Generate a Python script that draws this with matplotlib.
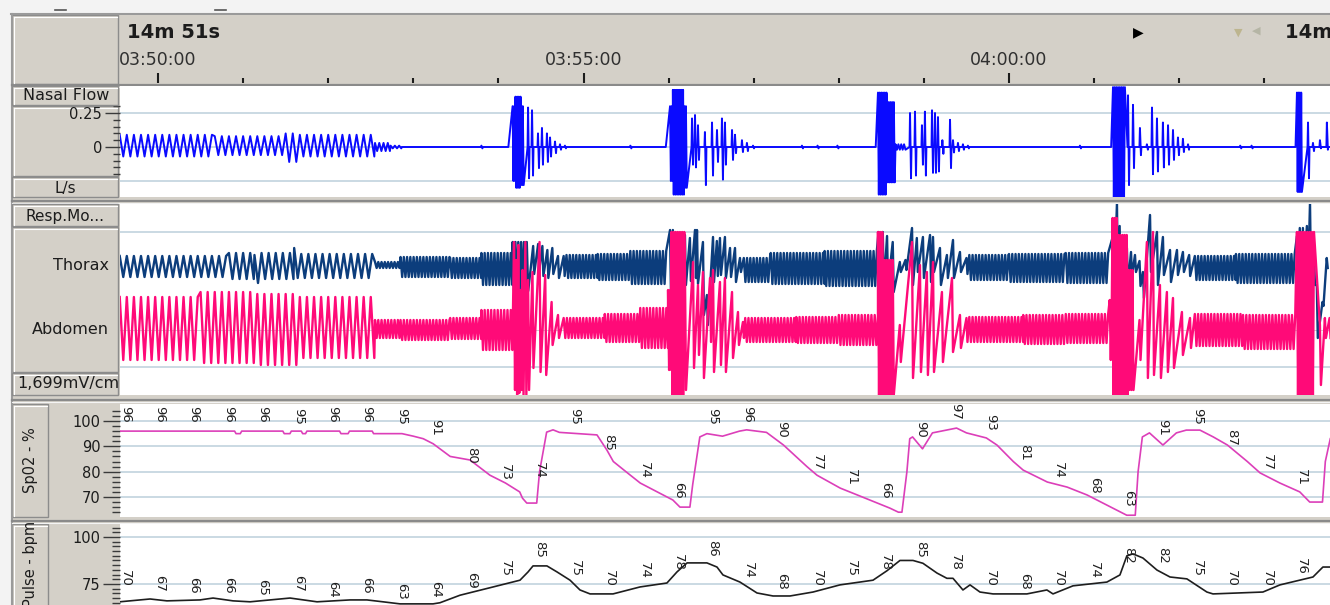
import numpy as np
import matplotlib.pyplot as plt
from matplotlib.patches import Rectangle
from matplotlib.transforms import Bbox, TransformedBbox
from matplotlib.ticker import FixedLocator, MultipleLocator

plt.rcParams['font.family'] = ['DejaVu Sans']

# time is in seconds after 03:50:00

# --- nasal flow (L/s): breathing bands + single strokes
flow_band_start = [-27, 40, 90, 100, 153, 164, 172, 250, 252, 256, 288, 361, 363, 371, 421,
                   507.6, 514, 520, 572, 673.3, 727, 803, 825]
flow_band_end = [40, 90, 100, 153, 164, 172, 250, 252, 256, 258, 361, 363, 371, 373, 507.6,
                 514, 519.6, 528, 673, 681.7, 803, 807, 828]
flow_band_hi = [0.09, 0.08, 0.10, 0.09, 0.03, 0.01, 0, 0.30, 0.37, 0.30, 0, 0.30, 0.42, 0.30, 0,
                0.40, 0.33, 0.02, 0, 0.44, 0, 0.40, 0]
flow_band_lo = [-0.07, -0.06, -0.11, -0.07, -0.03, -0.01, 0, -0.25, -0.30, -0.28, 0, -0.25, -0.35,
                -0.30, 0, -0.35, -0.26, -0.02, 0, -0.37, 0, -0.33, 0]
flow_band_period = [5, 5, 5, 5, 3, 3, 10, 1.2, 1.2, 1.2, 10, 1.2, 1.2, 1.2, 10,
                    1.2, 1.2, 2, 10, 1.2, 10, 1.0, 2]
flow_stroke_t = [228, 260.9, 263.7, 267.9, 270.7, 274.2, 276.4, 279.9, 283.4, 286.9, 333,
                 376.5, 378.6, 380.7, 385.6, 390.6, 394.1, 397.6, 399.7, 404.7, 406.8, 411.7, 415.2, 419.5,
                 454, 465, 479,
                 530.2, 533.7, 538.6, 540.7, 545.7, 547.8, 549.9, 553, 558.4, 560.5, 564, 567.5, 571, 650,
                 683.9, 687.4, 692.3, 697.2, 700.8, 704.3, 708.5, 712.1, 715.6, 719.1, 722.6, 726.2,
                 763, 771, 810.8, 814.3, 819.2, 824.1]
flow_stroke_hi = [0.01, 0.29, 0.27, 0.10, 0.14, 0.10, 0.07, 0.04, 0.02, 0.01, 0.01,
                  0.21, 0.235, 0.16, 0.11, 0.18, 0.125, 0.21, 0.18, 0.125, 0.09, 0.05, 0.03, 0.01,
                  0.01, 0.01, 0.01,
                  0.25, 0.26, 0.16, 0.26, 0.27, 0.25, 0.22, 0.05, 0.20, 0.05, 0.03, 0.02, 0.01, 0.01,
                  0.38, 0.31, 0.14, 0.02, 0.29, 0.21, 0.18, 0.16, 0.125, 0.07, 0.06, 0.02,
                  0.01, 0.01, 0.18, 0.03, 0.05, 0.18]
flow_stroke_lo = [-0.01, -0.23, -0.21, -0.155, -0.13, -0.11, -0.07, -0.045, -0.02, -0.01, -0.01,
                  -0.13, -0.15, -0.095, -0.28, -0.21, -0.11, -0.24, -0.13, -0.095, -0.045, -0.037, -0.03, -0.01,
                  -0.01, -0.01, -0.01,
                  -0.23, -0.21, -0.13, -0.21, -0.19, -0.19, -0.18, -0.05, -0.155, -0.04, -0.03, -0.02, -0.01, -0.01,
                  -0.28, -0.155, -0.06, -0.02, -0.20, -0.18, -0.15, -0.13, -0.095, -0.06, -0.037, -0.02,
                  -0.01, -0.01, -0.23, -0.03, -0.01, -0.02]

# --- thorax effort (display units around its own baseline)
thx_band_start = [-27, 50, 68, 73, 96, 101, 153, 171, 206, 228, 250, 288, 310, 333, 413, 432, 470,
                  572, 600, 640, 731, 760]
thx_band_end = [50, 68, 73, 96, 101, 153, 171, 206, 228, 250, 262, 310, 333, 359, 432, 470, 507,
                600, 640, 671, 760, 802]
thx_band_hi = [10, 13, 11, 13, 18, 12, 4, 9, 8, 13, 24, 11, 12, 15, 8, 13, 15, 11, 12, 13, 10, 12]
thx_band_lo = [-11, -13, -17, -13, -12, -12, -2, -11, -12, -19, -25, -12, -14, -18, -16, -18, -20,
               -14, -16, -17, -14, -17]
thx_band_period = [5, 5, 5, 5, 5, 5, 2.3, 2.3, 2.3, 2.3, 2.0, 2.3, 2.3, 2.3, 2.3, 2.3, 2.3,
                   2.3, 2.3, 2.3, 2.3, 2.3]
thx_stroke_t = [264.5, 268, 271, 274.5, 278, 282, 286,
                361, 363, 366, 369, 371.5, 375, 378.6, 380, 384.2, 387, 391.3, 394, 396.2, 399.7, 403.3, 406.8, 410.3,
                508, 511, 514, 518, 523, 527, 531.6, 535, 539.3, 544.3, 546.4, 551.3, 556.2, 560.5, 565.4, 570,
                673.3, 676.1, 678, 681, 683.1, 686, 688.8, 692, 694.4, 699.4, 704.3, 708.5, 713.5, 718.4, 722.6, 727,
                803, 805, 807.2, 810, 812.2, 815, 817, 821, 824]
thx_stroke_hi = [20, 22, 20, 16, 18, 10, 10,
                 36, 36, 30, 30, 31, 28, 36, 36, 24, -29, 29, 25, 28, 29, 18, 18, 8,
                 34, 34, 30, 24, 4, 6, 38, 28, 29, 31, 29, 18, 11, 26, 14, 8,
                 30, 63, 40, 30, 18, 14, 11, 5, -6, 51, 34, 29, 16, 16, 14, 11,
                 30, 38, 38, 40, 63, 10, -19, -36, 8]
thx_stroke_lo = [-8, -5, -10, -12, -8, -12, -10,
                 -32, -20, -25, -30, -19, -15, -12, -18, -49, -59, -16, -10, -9, -12, -11, -16, -6,
                 -19, -22, -20, -26, -6, -4, -19, -6, -12, -16, -6, -19, -12, -12, -6, -8,
                 -32, -32, -30, -25, -19, -10, -6, -20, -32, -6, -19, -9, -16, -9, -6, -10,
                 -20, -25, -12, -20, -12, -19, -72, -40, -2]

# --- abdomen effort
abd_band_start = [-27, 30, 70, 100, 153, 171, 206, 228, 286, 315, 340, 359.6, 362, 371.5, 414, 450, 480,
                  507.6, 512, 572, 610, 640, 671, 673, 677, 684, 731, 765, 803]
abd_band_end = [30, 70, 100, 153, 171, 206, 228, 250, 315, 340, 359.6, 362, 371.5, 373, 450, 480, 507.6,
                512, 519, 610, 640, 671, 673, 677, 684, 688, 765, 802, 815.7]
abd_band_hi = [33, 38, 36, 33, 10, 10, 12, 20, 12, 16, 22, 40, 98, 60, 12, 13, 15,
               98, 70, 13, 15, 16, 30, 112, 95, 60, 16, 15, 98]
abd_band_lo = [-30, -33, -35, -28, -8, -10, -9, -20, -8, -12, -18, -40, -65, -60, -12, -13, -15,
               -65, -65, -12, -14, -13, -30, -65, -65, -60, -16, -19, -65]
abd_band_period = [5, 5, 5, 5, 2.3, 2.3, 2.3, 2.3, 2.3, 2.3, 2.3, 1.5, 1.5, 1.5, 2.3, 2.3, 2.3,
                   1.5, 1.5, 2.3, 2.3, 2.3, 1.5, 1.5, 1.5, 1.5, 2.3, 2.3, 1.5]
abd_stroke_t = [251, 252.5, 254, 255.5, 257, 259, 260.9, 264, 269, 273, 277.5, 282,
                377.2, 380.7, 384.2, 389.2, 391.3, 396.2, 399.7, 404.7, 408.9, 412.4,
                523, 531.6, 537.2, 542.1, 546.4, 552.7, 559.8, 565.4, 570,
                692, 697.2, 701.5, 706.4, 711.3, 715.6, 721.9, 727.6,
                819.2, 822.7, 826]
abd_stroke_hi = [88, 70, 85, 40, 60, 88, 50, 58, 88, 55, 28, 15,
                 68, 45, 58, 52, 60, 48, 52, 38, 18, 8,
                 5, 88, 65, 58, 68, 38, 52, 15, 12,
                 10, 88, 98, 45, 38, 32, 18, 12,
                 5, 12, 12]
abd_stroke_lo = [-60, -65, -63, -60, -65, -65, -60, -38, -42, -45, -15, -8,
                 -38, -25, -48, -12, -42, -35, -42, -28, -15, -8,
                 -32, -48, -42, -45, -42, -32, -22, -18, -12,
                 -30, -48, -45, -48, -42, -38, -25, -18,
                 -55, -8, -8]

# --- SpO2 (%)
spo2_t = [-27, 54, 55, 58, 59, 88, 89, 93, 94, 101, 102, 104, 105, 128, 129, 134, 135, 151, 152,
          172, 180, 187, 194, 206, 220, 234, 245, 255, 257, 260, 267, 269, 274, 278.5, 283,
          309.5, 316.5, 321, 331, 340, 352, 363, 368, 375, 377, 382, 387, 398, 410, 415, 429,
          441, 457.5, 464.6, 481, 493, 516, 522, 524.5, 528, 530, 532, 539, 546, 563, 570, 584,
          591.5, 603, 610, 627, 641, 655, 669, 683, 689, 691, 694, 699, 708.5, 718, 725, 734.6,
          744, 754, 768, 777, 791, 805, 812, 821, 823, 826.5]
spo2_v = [96, 96, 95, 95, 96, 96, 95, 95, 96, 96, 95, 95, 96, 96, 95, 95, 96, 96, 95,
          95, 94, 93, 91, 86, 84.6, 78.6, 75.5, 72, 69.5, 67.6, 67.6, 80, 95.6, 96.5, 95.5,
          94.5, 88.5, 84, 79.5, 75.5, 72, 68.8, 66, 66, 75, 93.7, 95, 94, 96, 96.5, 95.5,
          90.5, 82, 78.6, 73.5, 70.8, 65.6, 64, 64, 80, 93, 93.7, 89, 95.3, 97.2, 95.3, 93.3,
          90.5, 84, 80.6, 75.9, 73.9, 70.8, 66.8, 62.8, 62.8, 80, 93.7, 95.3, 90.5, 95.3, 96.4, 96.4,
          93.7, 90.5, 84, 79.5, 75.5, 72, 68, 68, 84, 93]

# --- pulse (bpm)
pulse_t = [-27, -5.6, 6.3, 29.6, 38.8, 52.9, 64.9, 93.1, 112.1, 135.4, 147.3, 158.6, 170.6, 193.9,
           198.8, 212.9, 234.1, 255.2, 260.9, 264.4, 274.2, 281.3, 290.5, 297.5, 304.6, 320.8,
           339.8, 358.8, 365.9, 373, 387, 394.1, 398.3, 410.3, 422.3, 433.6, 445.6, 461.8, 480.8,
           504.1, 513.9, 523.1, 532.3, 539.3, 549.2, 556.2, 560.5, 567.5, 572.5, 579.5, 588.7,
           612.6, 626.7, 631, 645.1, 669, 678.2, 683.1, 687.4, 694.4, 704.3, 713.5, 725.4, 739.5,
           743.8, 779, 791, 814.3, 821.3, 826.3]
pulse_v = [65.5, 67, 66, 66.5, 67.5, 66, 65.5, 67.5, 65.5, 66.5, 66.5, 65.5, 64.4, 64.4,
           65, 69, 73, 77, 81.4, 84.6, 84.6, 81.4, 77, 71.8, 69.7, 69.7,
           73.4, 75.5, 81.4, 86.2, 86.2, 84, 79.8, 76, 70.2, 68.6, 68.6, 70.7, 74.5,
           77, 82, 87.5, 87.5, 86, 80.8, 78, 78, 71.8, 74.5, 70.7, 69.7,
           69.7, 71.8, 69.7, 74, 76, 79.8, 90, 91, 88.8, 82.4, 78.7, 77.7, 70.7,
           69.7, 70.7, 74.5, 78.7, 84, 84]

# --- sampled value labels
label_t = [-23, 1, 25, 50, 74, 99, 123, 147, 172, 196, 221, 245, 269, 294, 318, 343, 367, 391,
           416, 440, 465, 489, 513, 538, 562, 587, 611, 635, 660, 684, 708, 733, 757, 782, 806, 830]
spo2_labels = [96, 96, 96, 96, 96, 95, 96, 96, 95, 91, 80, 73, 74, 95, 85, 74, 66, 95,
               96, 90, 77, 71, 66, 90, 97, 93, 81, 74, 68, 63, 91, 95, 87, 77, 71, 93]
pulse_labels = [70, 67, 66, 66, 65, 67, 64, 66, 63, 64, 69, 75, 85, 75, 70, 74, 78, 86,
                74, 68, 70, 75, 78, 85, 78, 70, 68, 70, 74, 82, 82, 75, 70, 70, 76, 80]

time_ticks = [0, 300, 600]
time_labels = ['03:50:00', '03:55:00', '04:00:00']


def zigzag(b_start, b_end, b_hi, b_lo, b_per, s_t, s_hi, s_lo, to_zero=False):
    # bands alternate hi/lo every half period; strokes are single up/down swings
    t, v = [], []
    for s, e, hi, lo, p in zip(b_start, b_end, b_hi, b_lo, b_per):
        tt = np.arange(s, e, p / 2)
        t.extend(tt)
        v.extend(np.where(np.arange(len(tt)) % 2 == 0, hi, lo))
    for tt, hi, lo in zip(s_t, s_hi, s_lo):
        if to_zero:
            t.extend([tt - 0.35, tt, tt + 0.7, tt + 1.05])
            v.extend([0, hi, lo, 0])
        else:
            t.extend([tt, tt + 0.7])
            v.extend([hi, lo])
    t = np.asarray(t, dtype=float)
    v = np.asarray(v, dtype=float)
    order = np.argsort(t, kind='stable')
    return t[order], v[order]


W, H = 1330, 605
GRAY = '#d4d0c8'
EDGE = '#8c8c8c'
GRID = '#bccfdb'
TXT = '#1c1c1c'
T0, T1 = -26.8, 826.3

fig = plt.figure(figsize=(W / 100, H / 100), dpi=100, facecolor=GRAY)


def px_axes(x0, y0, x1, y1, z=5):
    ax = fig.add_axes([x0 / W, (H - y1) / H, (x1 - x0) / W, (y1 - y0) / H])
    ax.set_zorder(z)
    return ax


bg = px_axes(0, 0, W, H, z=0)
bg.set_xlim(0, W)
bg.set_ylim(H, 0)
bg.axis('off')
ov = px_axes(0, 0, W, H, z=10)
ov.set_xlim(0, W)
ov.set_ylim(H, 0)
ov.axis('off')


def box(ax, x0, y0, x1, y1):
    ax.add_patch(Rectangle((x0, y0), x1 - x0, y1 - y0, facecolor=GRAY, edgecolor=EDGE, lw=1.0))
    ax.plot([x0 + 1.5, x1 - 1.5], [y0 + 1.5, y0 + 1.5], color='white', lw=0.8)
    ax.plot([x0 + 1.5, x0 + 1.5], [y0 + 1.5, y1 - 1.5], color='white', lw=0.8)


# window chrome
bg.add_patch(Rectangle((0, 0), W, 13, facecolor='#f3f3f3', edgecolor='none'))
bg.add_patch(Rectangle((0, 0), 11, H, facecolor='#f3f3f3', edgecolor='none'))
bg.plot([55, 66], [10, 10], color='#555555', lw=1.2)
bg.plot([215, 226], [10, 10], color='#555555', lw=1.2)
bg.plot([11, W], [14, 14], color='#9a9a9a', lw=1.5)
bg.plot([11.5, 11.5], [14, H], color='#9a9a9a', lw=1.5)
for yy in [85, 200.5, 399.5, 520.5]:
    bg.plot([12, W], [yy, yy], color='#8a8a8a', lw=1.6)
    bg.plot([12, W], [yy + 2, yy + 2], color='#f4f4f4', lw=0.8)

box(bg, 12, 15, 118, 84)
box(bg, 12, 106, 118, 176)
box(bg, 12, 227, 118, 372)
box(bg, 12, 404, 48, 517)
box(bg, 12, 524, 48, 612)
box(ov, 12, 86, 118, 105)
box(ov, 12, 177, 118, 197)
box(ov, 12, 204, 118, 226)
box(ov, 12, 373, 118, 395)

ov.text(66, 96, 'Nasal Flow', ha='center', va='center', fontsize=11.5, color=TXT)
ov.text(65, 188, 'L/s', ha='center', va='center', fontsize=11, color=TXT)
ov.text(65, 216, 'Resp.Mo...', ha='center', va='center', fontsize=11, color=TXT)
unit = ov.text(119, 384, '1,699mV/cm', ha='right', va='center', fontsize=11.5, color=TXT, clip_on=True)
unit.set_clip_box(TransformedBbox(Bbox([[13, 373], [118, 395]]), ov.transData))
bg.text(109, 266, 'Thorax', ha='right', va='center', fontsize=11.5, color=TXT)
bg.text(109, 330, 'Abdomen', ha='right', va='center', fontsize=11.5, color=TXT)
bg.text(30, 460, 'Sp02 - %', ha='center', va='center', rotation=90, fontsize=10.5, color=TXT)
bg.text(30, 564, 'Pulse - bpm', ha='center', va='center', rotation=90, fontsize=10.5, color=TXT)

# header time ruler
hd = px_axes(120, 15, W, 83)
hd.set_facecolor(GRAY)
hd.set_xlim(T0, T1)
hd.set_ylim(0, 1)
for s in hd.spines.values():
    s.set_visible(False)
hd.set_yticks([])
hd.xaxis.set_major_locator(FixedLocator(time_ticks))
hd.xaxis.set_minor_locator(MultipleLocator(60))
hd.tick_params(axis='x', which='both', direction='in', labelbottom=False, color=TXT, width=1.5)
hd.tick_params(axis='x', which='major', length=7.5)
hd.tick_params(axis='x', which='minor', length=3.5)
for t, lab in zip(time_ticks, time_labels):
    hd.text(t, 0.34, lab, ha='center', va='center', fontsize=12.5, color='#303030', clip_on=True)
hd.text(0.006, 0.75, '14m 51s', transform=hd.transAxes, ha='left', va='center',
        fontsize=14, fontweight='bold', color=TXT)
ov.text(1138, 32, '\u25B6', ha='center', va='center', fontsize=10, color='black')
ov.text(1238, 33, '\u25BC', ha='center', va='center', fontsize=8, color='#bdb58f')
ov.text(1256, 31, '\u25C0', ha='center', va='center', fontsize=8, color='#b5b5a5')
ov.text(1285, 32, '14m 51s', ha='left', va='center', fontsize=14, fontweight='bold', color=TXT)


def plot_panel(y0, y1, ylim):
    ax = px_axes(120, y0, W, y1)
    ax.set_facecolor('white')
    ax.set_xlim(T0, T1)
    ax.set_ylim(*ylim)
    ax.set_xticks([])
    for s in ax.spines.values():
        s.set_visible(False)
    ax.tick_params(axis='y', which='both', direction='out', color='#3a3a3a', width=1.0,
                   labelsize=10.5, labelcolor=TXT, pad=2)
    return ax


# nasal flow
ax_f = plot_panel(86, 197, (-0.3676, 0.4485))
ax_f.set_yticks([0, 0.25])
ax_f.set_yticklabels(['0', '0.25'])
ax_f.yaxis.set_minor_locator(FixedLocator(np.arange(-0.2, 0.301, 0.05)))
ax_f.tick_params(axis='y', which='major', length=11)
ax_f.tick_params(axis='y', which='minor', length=5)
for g in [0.25, 0, -0.25]:
    ax_f.axhline(g, color=GRID, lw=1.1, zorder=1)
ft, fv = zigzag(flow_band_start, flow_band_end, flow_band_hi, flow_band_lo, flow_band_period,
                flow_stroke_t, flow_stroke_hi, flow_stroke_lo, to_zero=True)
ax_f.plot(ft, fv, color='#0a0aff', lw=1.4, zorder=3)

# respiratory effort
ABD_OFFSET = -64
ax_r = plot_panel(204, 395, (-129, 62))
ax_r.set_yticks([])
for g in [34, -101]:
    ax_r.axhline(g, color=GRID, lw=1.1, zorder=1)
ax_r.axhline(ABD_OFFSET, color='#c9c9c9', lw=0.6, zorder=1)
tt, tv = zigzag(thx_band_start, thx_band_end, thx_band_hi, thx_band_lo, thx_band_period,
                thx_stroke_t, thx_stroke_hi, thx_stroke_lo)
at, av = zigzag(abd_band_start, abd_band_end, abd_band_hi, abd_band_lo, abd_band_period,
                abd_stroke_t, abd_stroke_hi, abd_stroke_lo)
ax_r.plot(tt, tv, color='#0c3d7c', lw=1.7, zorder=3)
ax_r.plot(at, av + ABD_OFFSET, color='#ff0a78', lw=1.7, zorder=4)

# SpO2
ax_s = plot_panel(404, 517, (62.1, 106.7))
ax_s.set_yticks([70, 80, 90, 100])
ax_s.yaxis.set_minor_locator(FixedLocator(np.arange(64, 106, 2)))
ax_s.tick_params(axis='y', which='major', length=12)
ax_s.tick_params(axis='y', which='minor', length=6)
for g in [70, 80, 90, 100]:
    ax_s.axhline(g, color=GRID, lw=1.1, zorder=1)
ax_s.plot(spo2_t, spo2_v, color='#dc3fb9', lw=1.2, zorder=3)
for t, v in zip(label_t, spo2_labels):
    ax_s.annotate(str(v), (t, v), xytext=(0, 6), textcoords='offset points', rotation=-90,
                  ha='center', va='bottom', fontsize=9.5, color='#202020',
                  annotation_clip=False, clip_on=True)

# pulse
ax_p = plot_panel(524, 605, (63.8, 106.9))
ax_p.set_yticks([75, 100])
ax_p.yaxis.set_minor_locator(FixedLocator(np.arange(62.5, 107.5, 2.5)))
ax_p.tick_params(axis='y', which='major', length=12)
ax_p.tick_params(axis='y', which='minor', length=6)
for g in [75, 100]:
    ax_p.axhline(g, color=GRID, lw=1.1, zorder=1)
ax_p.plot(pulse_t, pulse_v, color='#1e1e1e', lw=1.2, zorder=3)
for t, v in zip(label_t, pulse_labels):
    ax_p.annotate(str(v), (t, v), xytext=(0, 5), textcoords='offset points', rotation=-90,
                  ha='center', va='bottom', fontsize=9.5, color='#202020',
                  annotation_clip=False, clip_on=True)

fig.savefig('out.png', dpi=100, facecolor=fig.get_facecolor())
